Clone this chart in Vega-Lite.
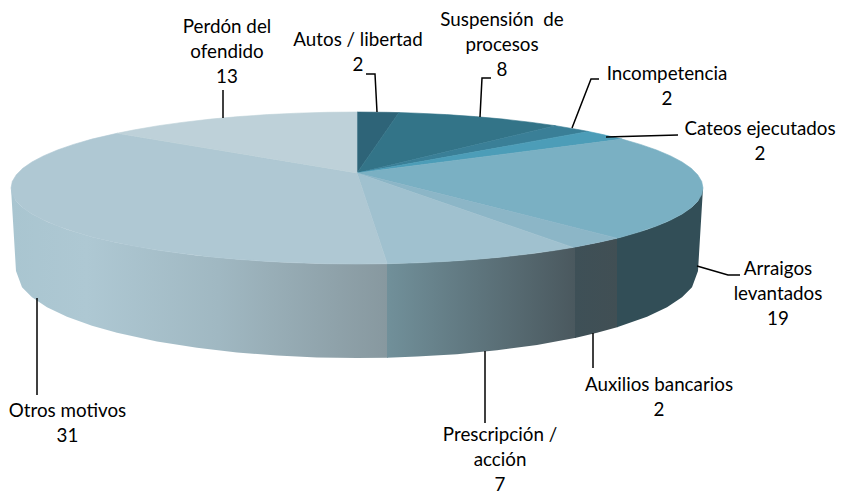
{
"$schema":"https://vega.github.io/schema/vega-lite/v6.json",
"width":841,"height":498,"padding":0,"autosize":{"type":"none"},
"background":"white",
"config":{"view":{"stroke":null}},
"datasets":{
"rim":[
{"seg":"Otros motivos","u":-346,"top":0,"bot":0},{"seg":"Otros motivos","u":-341,"top":-12.9,"bot":-83},{"seg":"Otros motivos","u":-335,"top":-19,"bot":-99.3},{"seg":"Otros motivos","u":-325,"top":-26.1,"bot":-109.3},{"seg":"Otros motivos","u":-310,"top":-33.8,"bot":-119.2},{"seg":"Otros motivos","u":-290,"top":-41.4,"bot":-128.8},{"seg":"Otros motivos","u":-265,"top":-48.9,"bot":-137.7},{"seg":"Otros motivos","u":-240,"top":-54.7,"bot":-144.8},{"seg":"Otros motivos","u":-200,"top":-62,"bot":-153.5},{"seg":"Otros motivos","u":-160,"top":-67.4,"bot":-159.8},{"seg":"Otros motivos","u":-120,"top":-71.3,"bot":-164.4},{"seg":"Otros motivos","u":-80,"top":-73.9,"bot":-167.6},{"seg":"Otros motivos","u":-40,"top":-75.5,"bot":-169.4},{"seg":"Otros motivos","u":0,"top":-76,"bot":-170},{"seg":"Otros motivos","u":31,"top":-75.7,"bot":-169.7},
{"seg":"Prescripción","u":30,"top":-75.7,"bot":-169.7},{"seg":"Prescripción","u":60,"top":-74.8,"bot":-168.6},{"seg":"Prescripción","u":100,"top":-72.8,"bot":-166.2},{"seg":"Prescripción","u":140,"top":-69.5,"bot":-162.3},{"seg":"Prescripción","u":180,"top":-64.9,"bot":-156.9},{"seg":"Prescripción","u":219,"top":-58.8,"bot":-149.7},
{"seg":"Auxilios","u":218,"top":-59,"bot":-149.9},{"seg":"Auxilios","u":240,"top":-54.7,"bot":-144.8},{"seg":"Auxilios","u":261,"top":-49.9,"bot":-139},
{"seg":"Arraigos","u":260,"top":-50.2,"bot":-139.3},{"seg":"Arraigos","u":290,"top":-41.4,"bot":-128.8},{"seg":"Arraigos","u":310,"top":-33.8,"bot":-119.2},{"seg":"Arraigos","u":325,"top":-26.1,"bot":-109.3},{"seg":"Arraigos","u":335,"top":-19,"bot":-99.3},{"seg":"Arraigos","u":341,"top":-12.9,"bot":-83},{"seg":"Arraigos","u":346,"top":0,"bot":0}
],
"slices":[
{"s":"Autos","i":0,"u":0,"v":15},{"s":"Autos","i":1,"u":0,"v":76},{"s":"Autos","i":2,"u":30.2,"v":75.7},{"s":"Autos","i":3,"u":42,"v":75.4},
{"s":"Suspension","i":0,"u":0,"v":15},{"s":"Suspension","i":1,"u":42,"v":75.4},{"s":"Suspension","i":2,"u":60.1,"v":74.8},{"s":"Suspension","i":3,"u":89.6,"v":73.4},{"s":"Suspension","i":4,"u":118.3,"v":71.4},{"s":"Suspension","i":5,"u":146.2,"v":68.9},{"s":"Suspension","i":6,"u":173,"v":65.8},{"s":"Suspension","i":7,"u":198.5,"v":62.3},
{"s":"Incompetencia","i":0,"u":0,"v":15},{"s":"Incompetencia","i":1,"u":198.5,"v":62.3},{"s":"Incompetencia","i":2,"u":222.4,"v":58.2},{"s":"Incompetencia","i":3,"u":231.5,"v":56.5},
{"s":"Cateos","i":0,"u":0,"v":15},{"s":"Cateos","i":1,"u":231.5,"v":56.5},{"s":"Cateos","i":2,"u":244.7,"v":53.7},{"s":"Cateos","i":3,"u":265.1,"v":48.9},
{"s":"Arraigos","i":0,"u":0,"v":15},{"s":"Arraigos","i":1,"u":265.1,"v":48.9},{"s":"Arraigos","i":2,"u":283.4,"v":43.6},{"s":"Arraigos","i":3,"u":299.6,"v":38},{"s":"Arraigos","i":4,"u":313.6,"v":32.1},{"s":"Arraigos","i":5,"u":325.1,"v":26},{"s":"Arraigos","i":6,"u":334.2,"v":19.7},{"s":"Arraigos","i":7,"u":340.7,"v":13.2},{"s":"Arraigos","i":8,"u":344.7,"v":6.6},{"s":"Arraigos","i":9,"u":346,"v":0},{"s":"Arraigos","i":10,"u":344.7,"v":-6.6},{"s":"Arraigos","i":11,"u":340.7,"v":-13.2},{"s":"Arraigos","i":12,"u":334.2,"v":-19.7},{"s":"Arraigos","i":13,"u":325.1,"v":-26},{"s":"Arraigos","i":14,"u":313.6,"v":-32.1},{"s":"Arraigos","i":15,"u":299.6,"v":-38},{"s":"Arraigos","i":16,"u":283.4,"v":-43.6},{"s":"Arraigos","i":17,"u":265.1,"v":-48.9},{"s":"Arraigos","i":18,"u":260,"v":-50.2},
{"s":"Auxilios","i":0,"u":0,"v":15},{"s":"Auxilios","i":1,"u":260,"v":-50.2},{"s":"Auxilios","i":2,"u":244.7,"v":-53.7},{"s":"Auxilios","i":3,"u":222.4,"v":-58.2},{"s":"Auxilios","i":4,"u":216,"v":-59.4},
{"s":"Prescripcion","i":0,"u":0,"v":15},{"s":"Prescripcion","i":1,"u":216,"v":-59.4},{"s":"Prescripcion","i":2,"u":198.5,"v":-62.3},{"s":"Prescripcion","i":3,"u":173,"v":-65.8},{"s":"Prescripcion","i":4,"u":146.2,"v":-68.9},{"s":"Prescripcion","i":5,"u":118.3,"v":-71.4},{"s":"Prescripcion","i":6,"u":89.6,"v":-73.4},{"s":"Prescripcion","i":7,"u":60.1,"v":-74.8},{"s":"Prescripcion","i":8,"u":30.2,"v":-75.7},
{"s":"Otros","i":0,"u":0,"v":15},{"s":"Otros","i":1,"u":30.2,"v":-75.7},{"s":"Otros","i":2,"u":0,"v":-76},{"s":"Otros","i":3,"u":-30.2,"v":-75.7},{"s":"Otros","i":4,"u":-60.1,"v":-74.8},{"s":"Otros","i":5,"u":-89.6,"v":-73.4},{"s":"Otros","i":6,"u":-118.3,"v":-71.4},{"s":"Otros","i":7,"u":-146.2,"v":-68.9},{"s":"Otros","i":8,"u":-173,"v":-65.8},{"s":"Otros","i":9,"u":-198.5,"v":-62.3},{"s":"Otros","i":10,"u":-222.4,"v":-58.2},{"s":"Otros","i":11,"u":-244.7,"v":-53.7},{"s":"Otros","i":12,"u":-265.1,"v":-48.9},{"s":"Otros","i":13,"u":-283.4,"v":-43.6},{"s":"Otros","i":14,"u":-299.6,"v":-38},{"s":"Otros","i":15,"u":-313.6,"v":-32.1},{"s":"Otros","i":16,"u":-325.1,"v":-26},{"s":"Otros","i":17,"u":-334.2,"v":-19.7},{"s":"Otros","i":18,"u":-340.7,"v":-13.2},{"s":"Otros","i":19,"u":-344.7,"v":-6.6},{"s":"Otros","i":20,"u":-346,"v":0},{"s":"Otros","i":21,"u":-344.7,"v":6.6},{"s":"Otros","i":22,"u":-340.7,"v":13.2},{"s":"Otros","i":23,"u":-334.2,"v":19.7},{"s":"Otros","i":24,"u":-325.1,"v":26},{"s":"Otros","i":25,"u":-313.6,"v":32.1},{"s":"Otros","i":26,"u":-299.6,"v":38},{"s":"Otros","i":27,"u":-283.4,"v":43.6},{"s":"Otros","i":28,"u":-265.1,"v":48.9},{"s":"Otros","i":29,"u":-240,"v":54.7},
{"s":"Perdon","i":0,"u":0,"v":15},{"s":"Perdon","i":1,"u":-240,"v":54.7},{"s":"Perdon","i":2,"u":-222.4,"v":58.2},{"s":"Perdon","i":3,"u":-198.5,"v":62.3},{"s":"Perdon","i":4,"u":-173,"v":65.8},{"s":"Perdon","i":5,"u":-146.2,"v":68.9},{"s":"Perdon","i":6,"u":-118.3,"v":71.4},{"s":"Perdon","i":7,"u":-89.6,"v":73.4},{"s":"Perdon","i":8,"u":-60.1,"v":74.8},{"s":"Perdon","i":9,"u":-30.2,"v":75.7},{"s":"Perdon","i":10,"u":0,"v":76}
],
"leaders":[
{"c":"Autos","i":0,"u":9,"v":114},{"c":"Autos","i":1,"u":18,"v":114},{"c":"Autos","i":2,"u":20,"v":76},
{"c":"Suspension","i":0,"u":134,"v":110},{"c":"Suspension","i":1,"u":125,"v":110},{"c":"Suspension","i":2,"u":123,"v":71},
{"c":"Incompetencia","i":0,"u":242,"v":109},{"c":"Incompetencia","i":1,"u":234,"v":109},{"c":"Incompetencia","i":2,"u":215,"v":60},
{"c":"Cateos","i":0,"u":321,"v":53},{"c":"Cateos","i":1,"u":249,"v":51},
{"c":"Arraigos","i":0,"u":383,"v":-87},{"c":"Arraigos","i":1,"u":371,"v":-87},{"c":"Arraigos","i":2,"u":340,"v":-78},
{"c":"Auxilios","i":0,"u":236,"v":-145},{"c":"Auxilios","i":1,"u":236,"v":-180},
{"c":"Prescripcion","i":0,"u":128,"v":-163},{"c":"Prescripcion","i":1,"u":128,"v":-235},
{"c":"Otros","i":0,"u":-320,"v":-110},{"c":"Otros","i":1,"u":-320,"v":-207},
{"c":"Perdon","i":0,"u":-134,"v":98},{"c":"Perdon","i":1,"u":-134,"v":70}
],
"labels":[
{"category":"Perdón del ofendido","value":13,"text":"Perdón del\nofendido\n13","u":-130,"v":161},
{"category":"Autos / libertad","value":2,"text":"Autos / libertad\n2","u":1,"v":148},
{"category":"Suspensión de procesos","value":8,"text":"Suspensión \u00a0de\nprocesos\n8","u":145,"v":168},
{"category":"Incompetencia","value":2,"text":"Incompetencia\n2","u":310,"v":114},
{"category":"Cateos ejecutados","value":2,"text":"Cateos ejecutados\n2","u":403,"v":59},
{"category":"Arraigos levantados","value":19,"text":"Arraigos\nlevantados\n19","u":421,"v":-81},
{"category":"Auxilios bancarios","value":2,"text":"Auxilios bancarios\n2","u":302,"v":-197},
{"category":"Prescripción / acción","value":7,"text":"Prescripción /\nacción\n7","u":143,"v":-247},
{"category":"Otros motivos","value":31,"text":"Otros motivos\n31","u":-289.5,"v":-223}
]
},
"layer":[
{"data":{"name":"rim"},"transform":[{"filter":"datum.seg === 'Otros motivos'"}],
 "mark":{"type":"area","line":false,"fill":{"gradient":"linear","x1":0,"y1":0,"x2":1,"y2":0,"stops":[{"offset":0,"color":"#a9c5d0"},{"offset":0.2,"color":"#aec8d3"},{"offset":0.55,"color":"#a0b8c2"},{"offset":1,"color":"#87989f"}]}},
 "encoding":{"x":{"field":"u","type":"quantitative","scale":{"domain":[-357,484],"nice":false,"zero":false},"axis":null},"y":{"field":"top","type":"quantitative","scale":{"domain":[-310,188],"nice":false,"zero":false},"axis":null},"y2":{"field":"bot"}}},
{"data":{"name":"rim"},"transform":[{"filter":"datum.seg === 'Prescripción'"}],
 "mark":{"type":"area","fill":{"gradient":"linear","x1":0,"y1":0,"x2":1,"y2":0,"stops":[{"offset":0,"color":"#71909a"},{"offset":1,"color":"#4a585e"}]}},
 "encoding":{"x":{"field":"u","type":"quantitative","scale":{"domain":[-357,484],"nice":false,"zero":false},"axis":null},"y":{"field":"top","type":"quantitative","scale":{"domain":[-310,188],"nice":false,"zero":false},"axis":null},"y2":{"field":"bot"}}},
{"data":{"name":"rim"},"transform":[{"filter":"datum.seg === 'Auxilios'"}],
 "mark":{"type":"area","fill":{"gradient":"linear","x1":0,"y1":0,"x2":1,"y2":0,"stops":[{"offset":0,"color":"#3e5057"},{"offset":1,"color":"#414f54"}]}},
 "encoding":{"x":{"field":"u","type":"quantitative","scale":{"domain":[-357,484],"nice":false,"zero":false},"axis":null},"y":{"field":"top","type":"quantitative","scale":{"domain":[-310,188],"nice":false,"zero":false},"axis":null},"y2":{"field":"bot"}}},
{"data":{"name":"rim"},"transform":[{"filter":"datum.seg === 'Arraigos'"}],
 "mark":{"type":"area","fill":"#324e57"},
 "encoding":{"x":{"field":"u","type":"quantitative","scale":{"domain":[-357,484],"nice":false,"zero":false},"axis":null},"y":{"field":"top","type":"quantitative","scale":{"domain":[-310,188],"nice":false,"zero":false},"axis":null},"y2":{"field":"bot"}}},
{"data":{"name":"slices"},
 "mark":{"type":"line","strokeWidth":0.6,"interpolate":"linear-closed"},
 "encoding":{
  "x":{"field":"u","type":"quantitative","scale":{"domain":[-357,484],"nice":false,"zero":false},"axis":null},
  "y":{"field":"v","type":"quantitative","scale":{"domain":[-310,188],"nice":false,"zero":false},"axis":null},
  "order":{"field":"i","type":"quantitative"},
  "fill":{"field":"s","type":"nominal","legend":null,"scale":{"domain":["Autos","Suspension","Incompetencia","Cateos","Arraigos","Auxilios","Prescripcion","Otros","Perdon"],"range":["#2e6478","#337488","#3a7f97","#4c9db8","#7ab0c3","#8cb6c7","#a0c1cf","#afc8d3","#bed1d9"]}},
  "stroke":{"field":"s","type":"nominal","legend":null,"scale":{"domain":["Autos","Suspension","Incompetencia","Cateos","Arraigos","Auxilios","Prescripcion","Otros","Perdon"],"range":["#2e6478","#337488","#3a7f97","#4c9db8","#7ab0c3","#8cb6c7","#a0c1cf","#afc8d3","#bed1d9"]}}
 }},
{"data":{"name":"leaders"},
 "mark":{"type":"line","color":"#000000","strokeWidth":1.5},
 "encoding":{
  "x":{"field":"u","type":"quantitative","scale":{"domain":[-357,484],"nice":false,"zero":false},"axis":null},
  "y":{"field":"v","type":"quantitative","scale":{"domain":[-310,188],"nice":false,"zero":false},"axis":null},
  "detail":{"field":"c"},
  "order":{"field":"i","type":"quantitative"}
 }},
{"data":{"name":"labels"},
 "mark":{"type":"text","font":"Lato","fontSize":18.8,"lineBreak":"\n","lineHeight":25,"align":"center","baseline":"middle","color":"#000000"},
 "encoding":{
  "x":{"field":"u","type":"quantitative","scale":{"domain":[-357,484],"nice":false,"zero":false},"axis":null},
  "y":{"field":"v","type":"quantitative","scale":{"domain":[-310,188],"nice":false,"zero":false},"axis":null},
  "text":{"field":"text"}
 }}
]
}
